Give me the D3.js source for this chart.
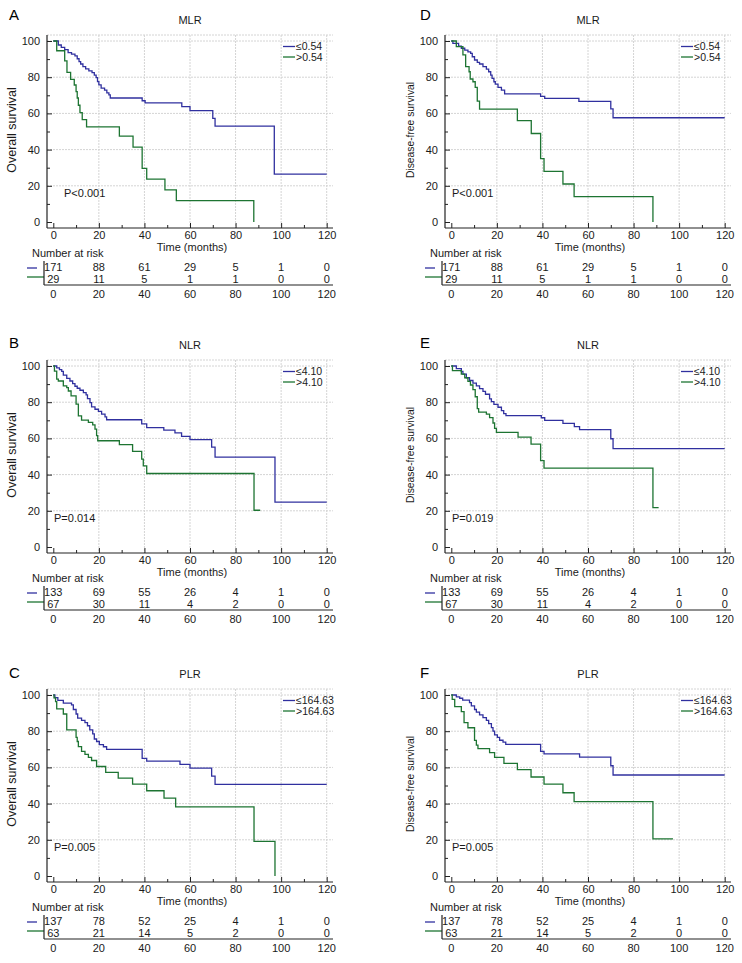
<!DOCTYPE html>
<html><head><meta charset="utf-8">
<script src="https://cdn.jsdelivr.net/npm/d3@7"></script>
<style>
html,body{margin:0;padding:0;background:#fff;}
svg{display:block;font-family:"Liberation Sans",Arial,sans-serif;}
</style></head>
<body><svg id="chart" width="742" height="963"></svg>
<script>
// ---------- DATA ----------
const xTicks = [0, 20, 40, 60, 80, 100, 120];
const xMinorTicks = [10, 30, 50, 70, 90, 110];
const yTicks = [0, 20, 40, 60, 80, 100];
const yMinorTicks = [10, 30, 50, 70, 90];
const panelLetters = ["A", "B", "C", "D", "E", "F"];
const panelTitles = ["MLR", "NLR", "PLR", "MLR", "NLR", "PLR"];
const yLabels = ["Overall survival", "Overall survival", "Overall survival",
                 "Disease-free survival", "Disease-free survival", "Disease-free survival"];
const pValues = ["P<0.001", "P=0.014", "P=0.005", "P<0.001", "P=0.019", "P=0.005"];
const lowLabels = ["≤0.54", "≤4.10", "≤164.63", "≤0.54", "≤4.10", "≤164.63"];
const highLabels = [">0.54", ">4.10", ">164.63", ">0.54", ">4.10", ">164.63"];

// Kaplan-Meier step points [month, survival %]
const osMlrLow = [[0,100],[2.2,97.8],[3.5,96.5],[5,95.2],[6.5,93.6],[8,92.8],[9.5,91.8],[10.5,90.2],[11.3,88.6],[12,87.3],[13,85.8],[14.2,84.6],[15.6,83.5],[17,82.5],[18,81.2],[18.8,79.8],[19.4,77.6],[20,75.8],[21,74],[22.5,72.9],[23.5,71.3],[24.4,70.2],[25,68.5],[39,67],[40.3,65.8],[56.4,63.7],[60,61.5],[70,57.3],[71,53],[97,26.5]];
const osMlrHigh = [[0,100],[1.5,94.6],[5,89],[6,82.7],[7.6,78.8],[9.2,75.7],[10,72],[10.5,68.5],[11,64.5],[11.7,60.4],[12.7,56.6],[14.6,52.6],[29,47.4],[35,41.4],[39,29.6],[41,23.7],[49,17.8],[54,11.8],[88,0]];
const osNlrLow = [[0,100],[1.5,99],[2.7,98],[3.7,97],[4.4,95],[5.9,93.2],[7.3,91.7],[8.5,90.3],[9.5,88.8],[10.5,87.7],[11.7,86.6],[13.2,85.3],[14.4,84],[15,82],[16.1,79.8],[16.8,77.4],[18.3,76.1],[19.8,74.9],[21.2,73.4],[22.7,71.9],[23.4,70.3],[38.8,68],[41,66],[48.5,64.6],[53.4,63],[56.3,61.1],[60,59.3],[69.5,55.2],[71,49.6],[97.3,24.8]];
const osNlrHigh = [[0,100],[0.5,97.2],[1.5,92.7],[2.2,91.7],[4.4,89],[5.9,88],[6.6,86.2],[7.8,83.5],[10,78.9],[11,72.5],[12.4,70.1],[15.4,68.8],[17.3,67.5],[18.3,65.1],[19,61.5],[19.5,58.7],[29,56.6],[34.8,52.8],[38.8,48.5],[39.5,44.8],[41,40.6],[88.1,20.3]];
const osPlrLow = [[0,100],[0.7,98.5],[2,97],[4.4,95.5],[8,94.5],[8.8,92],[10,89.5],[10.7,87.2],[12.4,86],[13.9,84.7],[15,83],[16,80.7],[17.3,78.5],[18,75.7],[19,74.3],[20.2,72.6],[22,71.4],[23.4,70],[39,65],[41,63.5],[55.6,61.7],[60,59.6],[69.5,55.2],[71,50.6]];
const osPlrHigh = [[0,100],[0.3,98.4],[1,96.3],[1.5,92.3],[4.4,89.5],[5.9,80.7],[10,76.6],[10.5,74.3],[11,71.5],[12.4,68.8],[13.9,67.2],[15.4,65.5],[16.8,63.8],[19,60.5],[23,57.3],[28.5,54.1],[34.8,50.8],[41,47.1],[48.6,43],[53.7,38.2],[88.1,19.1],[97.3,0]];
const dfsMlrLow = [[0,100],[0.7,98.7],[3.2,97.2],[4.4,96],[5.9,95],[7.3,94],[8.5,93.2],[9.2,91.3],[10.2,89.5],[11.4,88.2],[12.4,87.3],[13.9,85.8],[15.4,84.5],[16.4,83],[17.3,81.2],[17.9,79.3],[18.7,77.5],[19.3,76.2],[20.5,74.4],[22,72.9],[23.4,70.8],[39.2,69.4],[41,68.3],[56,66.6],[70,62.5],[71,57.6]];
const dfsMlrHigh = [[0,100],[2.2,96.9],[5.1,92.3],[6.3,85.8],[7.8,83],[8.3,79],[9.5,77.5],[10.5,74.4],[11.4,66.8],[12.4,62.4],[29,56],[35.1,48.9],[39.2,35],[40.7,28],[49,21],[53.9,14],[88.5,0]];
const dfsNlrLow = [[0,100],[2.2,98.5],[4.4,97],[5.1,95.5],[6.6,93.5],[8,92],[9.5,90.5],[11,89],[12.4,87.5],[13.9,86],[15,84.4],[16.8,81.8],[17.6,80.3],[18.7,78.8],[20.5,77.2],[22,75.3],[23,73.7],[24,72.6],[39.5,71.4],[41,70],[49,68.3],[54,66.5],[56.3,64.8],[70,59.8],[71,54.3]];
const dfsNlrHigh = [[0,100],[0.5,97.5],[4.4,95.5],[5.9,93.5],[7.3,91.5],[8.4,89.5],[9.5,87],[10.5,83],[11.4,76.5],[12,74.5],[15.4,73.4],[16.8,71.5],[18.3,68.5],[19,65.5],[19.8,63.3],[29.3,60.7],[35,56.8],[39.2,47.7],[40.7,43.6],[88.5,21.8]];
const dfsPlrLow = [[0,100],[2.2,99],[3.7,98.2],[5,97.2],[8,95.8],[8.8,94],[10.2,92],[11,90.5],[12.4,89],[13.9,87.5],[15.4,86],[16.4,84.2],[17.6,82],[18.3,80],[19,78],[20.2,76.6],[21.2,75],[22.7,74],[23.9,72.7],[39.2,68.8],[40.7,67.5],[56.3,65.7],[70,60.9],[71,55.8]];
const dfsPlrHigh = [[0,100],[0.4,97.6],[1.5,93.6],[4.4,90.8],[5.6,84.7],[7.3,81.9],[10.2,74.9],[11,72.3],[11.7,70.4],[16.8,68.2],[19,65.5],[23.1,62.2],[29,58.8],[35,54.7],[40.7,50.8],[49,46],[53.9,41.1],[88.5,20.5]];

// last follow-up month of each curve
const lowEnds = [120, 120, 120, 120, 120, 120];
const highEnds = [88, 90.8, 97.3, 88.5, 91, 97.3];

// number at risk
const riskMlrLow = [171, 88, 61, 29, 5, 1, 0];
const riskMlrHigh = [29, 11, 5, 1, 1, 0, 0];
const riskNlrLow = [133, 69, 55, 26, 4, 1, 0];
const riskNlrHigh = [67, 30, 11, 4, 2, 0, 0];
const riskPlrLow = [137, 78, 52, 25, 4, 1, 0];
const riskPlrHigh = [63, 21, 14, 5, 2, 0, 0];

// ---------- LAYOUT ----------
const BLUE = "#30309f", GREEN = "#1d7432", TXT = "#1a1a1a", AX = "#222", GRID = "#d4d4d4";
const lowSeries = [osMlrLow, osNlrLow, osPlrLow, dfsMlrLow, dfsNlrLow, dfsPlrLow];
const highSeries = [osMlrHigh, osNlrHigh, osPlrHigh, dfsMlrHigh, dfsNlrHigh, dfsPlrHigh];
const riskLow = [riskMlrLow, riskNlrLow, riskPlrLow, riskMlrLow, riskNlrLow, riskPlrLow];
const riskHigh = [riskMlrHigh, riskNlrHigh, riskPlrHigh, riskMlrHigh, riskNlrHigh, riskPlrHigh];
const colDX = [0, 398];
const rowDY = [0, 325, 654];
const letterX = [9, 420];
const letterY = [20, 23, 24];
const yLabelSize = [12.5, 10.3];

const svg = d3.select("#chart");
const font = 11;

for (let i = 0; i < 6; i++) {
  const col = Math.floor(i / 3), row = i % 3;
  const g = svg.append("g").attr("transform", `translate(${colDX[col]},${rowDY[row]})`);
  const x = d3.scaleLinear().domain([0, 120]).range([53.3, 326.7]);
  const y = d3.scaleLinear().domain([0, 100]).range([222, 41]);
  const axL = 47, axR = 333, axB = 228, top = 35;

  // letter & title
  g.append("text").attr("x", letterX[col] - colDX[col]).attr("y", letterY[row])
    .attr("font-size", 15).attr("fill", "#000").text(panelLetters[i]);
  g.append("text").attr("x", 190).attr("y", 24).attr("text-anchor", "middle")
    .attr("font-size", font).attr("fill", TXT).text(panelTitles[i]);

  // grid
  const grid = g.append("g").attr("stroke", GRID).attr("stroke-width", 1).attr("stroke-dasharray", "2,1");
  grid.append("line").attr("x1", axL).attr("x2", axR).attr("y1", top).attr("y2", top).attr("stroke-dasharray", null);
  xTicks.filter(d => d > 0).forEach(d => grid.append("line")
    .attr("x1", x(d)).attr("x2", x(d)).attr("y1", top).attr("y2", axB));
  yTicks.filter(d => d > 0).forEach(d => grid.append("line")
    .attr("x1", axL).attr("x2", axR).attr("y1", y(d)).attr("y2", y(d)));

  // axes
  g.append("g").attr("transform", `translate(0,${axB})`)
    .call(d3.axisBottom(x).tickValues(xTicks).tickSize(-5).tickPadding(3).tickFormat(d3.format("d")));
  g.append("g").attr("transform", `translate(0,${axB})`)
    .call(d3.axisBottom(x).tickValues(xMinorTicks).tickSize(-3).tickFormat(""));
  g.append("g").attr("transform", `translate(${axL},0)`)
    .call(d3.axisLeft(y).tickValues(yTicks).tickSize(-5).tickPadding(7).tickFormat(d3.format("d")));
  g.append("g").attr("transform", `translate(${axL},0)`)
    .call(d3.axisLeft(y).tickValues(yMinorTicks).tickSize(-3).tickFormat(""));
  g.selectAll(".domain").remove();
  g.selectAll(".tick line").attr("stroke", AX);
  g.selectAll(".tick text").attr("font-size", font).attr("fill", TXT)
    .attr("font-family", '"Liberation Sans",Arial,sans-serif');
  g.append("line").attr("x1", axL).attr("x2", axR).attr("y1", axB).attr("y2", axB).attr("stroke", AX).attr("stroke-width", 1.2);
  g.append("line").attr("x1", axL).attr("x2", axL).attr("y1", top).attr("y2", axB).attr("stroke", AX).attr("stroke-width", 1.2);

  // axis titles
  g.append("text").attr("x", 192).attr("y", 251).attr("text-anchor", "middle")
    .attr("font-size", font).attr("fill", TXT).text("Time (months)");
  g.append("text").attr("transform", `translate(16,130) rotate(-90)`).attr("text-anchor", "middle")
    .attr("font-size", yLabelSize[col]).attr("fill", TXT).text(yLabels[i]);

  // curves
  const line = d3.line().x(d => x(d[0])).y(d => y(d[1])).curve(d3.curveStepAfter);
  const lo = lowSeries[i].concat([[lowEnds[i], lowSeries[i][lowSeries[i].length - 1][1]]]);
  const hi = highSeries[i].concat([[highEnds[i], highSeries[i][highSeries[i].length - 1][1]]]);
  g.append("path").attr("d", line(lo)).attr("fill", "none").attr("stroke", BLUE).attr("stroke-width", 1.3);
  g.append("path").attr("d", line(hi)).attr("fill", "none").attr("stroke", GREEN).attr("stroke-width", 1.3);

  // legend
  [[lowLabels[i], BLUE, 46.5], [highLabels[i], GREEN, 57]].forEach(([t, c, ly]) => {
    g.append("line").attr("x1", 283).attr("x2", 295).attr("y1", ly).attr("y2", ly).attr("stroke", c).attr("stroke-width", 1.3);
    g.append("text").attr("x", 296).attr("y", ly + 3.8).attr("font-size", 10.5).attr("fill", TXT).text(t);
  });

  // p value
  g.append("text").attr("x", i === 0 ? 64 : 54).attr("y", 197).attr("font-size", font).attr("fill", TXT).text(pValues[i]);

  // number at risk
  g.append("text").attr("x", 32).attr("y", 257).attr("font-size", font).attr("fill", TXT).text("Number at risk");
  g.append("line").attr("x1", 27).attr("x2", 37).attr("y1", 268).attr("y2", 268).attr("stroke", BLUE).attr("stroke-width", 1.3);
  g.append("line").attr("x1", 27).attr("x2", 44).attr("y1", 277).attr("y2", 277).attr("stroke", GREEN).attr("stroke-width", 1.3);
  g.append("line").attr("x1", 44).attr("x2", 44).attr("y1", 261).attr("y2", 285).attr("stroke", AX).attr("stroke-width", 1.2);
  g.append("line").attr("x1", 44).attr("x2", axR).attr("y1", 285).attr("y2", 285).attr("stroke", AX).attr("stroke-width", 1.2);
  xTicks.forEach((t, k) => {
    g.append("text").attr("x", x(t)).attr("y", 271).attr("text-anchor", "middle").attr("font-size", font).attr("fill", TXT).text(riskLow[i][k]);
    g.append("text").attr("x", x(t)).attr("y", 283).attr("text-anchor", "middle").attr("font-size", font).attr("fill", TXT).text(riskHigh[i][k]);
    g.append("text").attr("x", x(t)).attr("y", 298).attr("text-anchor", "middle").attr("font-size", font).attr("fill", TXT).text(t);
  });
}
</script></body></html>
